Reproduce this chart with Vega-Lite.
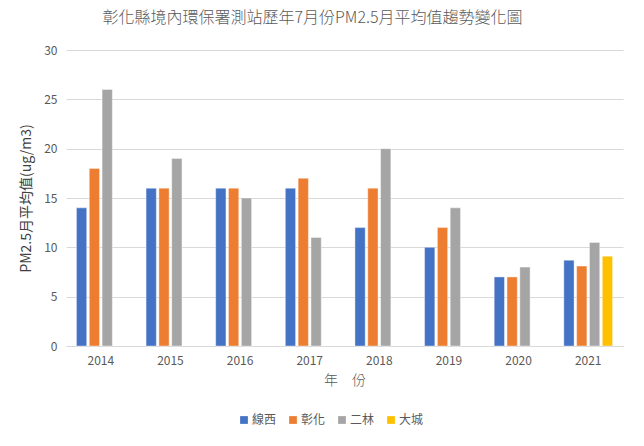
{
  "$schema": "https://vega.github.io/schema/vega-lite/v6.json",
  "width": 557,
  "height": 296,
  "autosize": {"type": "none"},
  "padding": {"left": 66, "top": 50, "right": 21, "bottom": 100},
  "background": "white",
  "title": {
    "text": "彰化縣境內環保署測站歷年7月份PM2.5月平均值趨勢變化圖",
    "font": "Noto Sans CJK TC",
    "fontSize": 16,
    "fontWeight": 300,
    "color": "#595959",
    "anchor": "middle",
    "dx": -32,
    "offset": 18
  },
  "data": {
    "values": [
      {"year": "2014", "station": "線西", "value": 14},
      {"year": "2014", "station": "彰化", "value": 18},
      {"year": "2014", "station": "二林", "value": 26},
      {"year": "2015", "station": "線西", "value": 16},
      {"year": "2015", "station": "彰化", "value": 16},
      {"year": "2015", "station": "二林", "value": 19},
      {"year": "2016", "station": "線西", "value": 16},
      {"year": "2016", "station": "彰化", "value": 16},
      {"year": "2016", "station": "二林", "value": 15},
      {"year": "2017", "station": "線西", "value": 16},
      {"year": "2017", "station": "彰化", "value": 17},
      {"year": "2017", "station": "二林", "value": 11},
      {"year": "2018", "station": "線西", "value": 12},
      {"year": "2018", "station": "彰化", "value": 16},
      {"year": "2018", "station": "二林", "value": 20},
      {"year": "2019", "station": "線西", "value": 10},
      {"year": "2019", "station": "彰化", "value": 12},
      {"year": "2019", "station": "二林", "value": 14},
      {"year": "2020", "station": "線西", "value": 7},
      {"year": "2020", "station": "彰化", "value": 7},
      {"year": "2020", "station": "二林", "value": 8},
      {"year": "2021", "station": "線西", "value": 8.7},
      {"year": "2021", "station": "彰化", "value": 8.1},
      {"year": "2021", "station": "二林", "value": 10.5},
      {"year": "2021", "station": "大城", "value": 9.1}
    ]
  },
  "mark": {"type": "bar", "stroke": "#FFFFFF", "strokeOpacity": 0.5, "strokeWidth": 0.8},
  "encoding": {
    "x": {
      "field": "year",
      "type": "nominal",
      "scale": {"paddingInner": 0.3, "paddingOuter": 0.15},
      "axis": {
        "title": "年　份",
        "labelAngle": 0,
        "ticks": false,
        "domainColor": "#D9D9D9",
        "labelColor": "#595959",
        "labelFont": "Noto Sans CJK TC",
        "labelFontSize": 12,
        "labelPadding": 9,
        "titleFont": "Noto Sans CJK TC",
        "titleFontSize": 14,
        "titleFontWeight": 300,
        "titleColor": "#595959",
        "titlePadding": 7
      }
    },
    "xOffset": {
      "field": "station",
      "type": "nominal",
      "sort": ["線西", "彰化", "二林", "大城"],
      "scale": {"paddingInner": 0.2, "paddingOuter": 0}
    },
    "y": {
      "field": "value",
      "type": "quantitative",
      "scale": {"domain": [0, 30]},
      "axis": {
        "title": "PM2.5月平均值(ug/m3)",
        "values": [0, 5, 10, 15, 20, 25, 30],
        "domain": false,
        "ticks": false,
        "gridColor": "#D9D9D9",
        "labelColor": "#595959",
        "labelFont": "Noto Sans CJK TC",
        "labelFontSize": 12,
        "labelPadding": 9,
        "titleFont": "Noto Sans CJK TC",
        "titleFontSize": 14,
        "titleFontWeight": "normal",
        "titleColor": "#404040",
        "titlePadding": 10
      }
    },
    "color": {
      "field": "station",
      "type": "nominal",
      "sort": ["線西", "彰化", "二林", "大城"],
      "scale": {
        "domain": ["線西", "彰化", "二林", "大城"],
        "range": ["#4472C4", "#ED7D31", "#A5A5A5", "#FFC000"]
      },
      "legend": {
        "title": null,
        "orient": "none",
        "direction": "horizontal",
        "legendX": 172,
        "legendY": 364,
        "symbolType": "square",
        "symbolSize": 60,
        "symbolStrokeWidth": 0,
        "labelFont": "Noto Sans CJK TC",
        "labelFontSize": 12,
        "labelColor": "#595959",
        "labelOffset": 2,
        "columnPadding": 10
      }
    }
  },
  "config": {
    "view": {"stroke": null},
    "axis": {"gridWidth": 1}
  }
}
